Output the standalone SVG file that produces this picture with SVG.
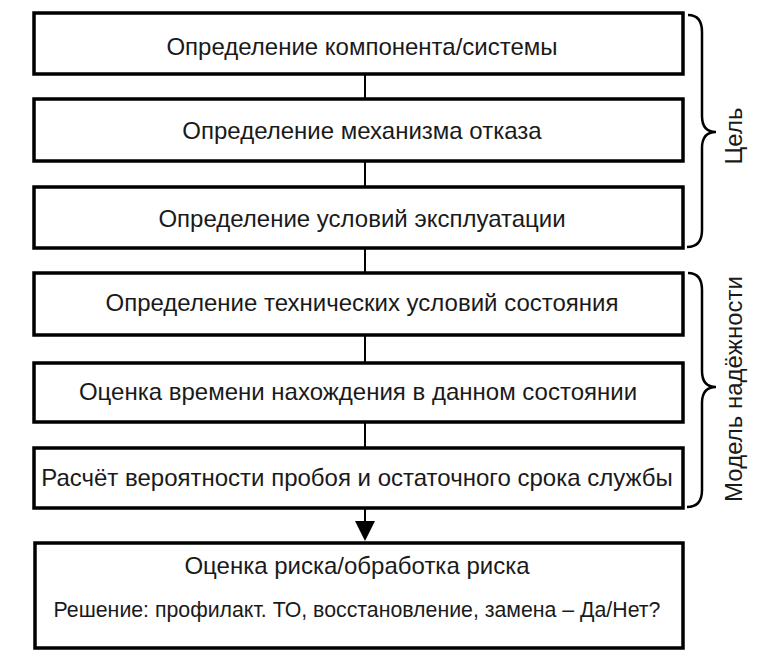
<svg xmlns="http://www.w3.org/2000/svg" width="759" height="658" viewBox="0 0 759 658">
<style>
.box{fill:#fff;stroke:#000;stroke-width:3.5}
.t{font-family:"Liberation Sans",Arial,sans-serif;font-size:24px;fill:#1a1a1a;text-anchor:middle}
.s{font-family:"Liberation Sans",Arial,sans-serif;font-size:21.3px;fill:#1a1a1a;text-anchor:middle}
.lab{font-family:"Liberation Sans",Arial,sans-serif;font-size:24px;fill:#1a1a1a;text-anchor:middle}
.con{stroke:#000;stroke-width:2;fill:none}
.br{stroke:#000;stroke-width:2.5;fill:none}
</style>
<rect width="759" height="658" fill="#fff"/>
<g id="connectors">
<line class="con" x1="365" y1="74" x2="365" y2="99"/>
<line class="con" x1="365" y1="161" x2="365" y2="187"/>
<line class="con" x1="365" y1="248" x2="365" y2="273"/>
<line class="con" x1="365" y1="335" x2="365" y2="363"/>
<line class="con" x1="365" y1="422" x2="365" y2="448"/>
<line class="con" x1="365" y1="508" x2="365" y2="524"/>
<path d="M355,521 L375,521 L365,541 Z" fill="#000"/>
</g>
<g id="n1"><rect class="box" x="34" y="13" width="649" height="61"/><text class="t" x="362" y="55">Определение компонента/системы</text></g>
<g id="n2"><rect class="box" x="34" y="99" width="649" height="62"/><text class="t" x="362" y="139">Определение механизма отказа</text></g>
<g id="n3"><rect class="box" x="34" y="187" width="649" height="61"/><text class="t" x="362" y="227">Определение условий эксплуатации</text></g>
<g id="n4"><rect class="box" x="34" y="273" width="649" height="62"/><text class="t" x="362" y="311">Определение технических условий состояния</text></g>
<g id="n5"><rect class="box" x="34" y="363" width="649" height="59"/><text class="t" x="358" y="400">Оценка времени нахождения в данном состоянии</text></g>
<g id="n6"><rect class="box" x="34" y="448" width="649" height="60"/><text class="t" x="357" y="486">Расчёт вероятности пробоя и остаточного срока службы</text></g>
<g id="n7"><rect class="box" x="35" y="543" width="648" height="105"/><text class="t" x="357" y="574">Оценка риска/обработка риска</text><text class="s" x="357" y="617">Решение: профилакт. ТО, восстановление, замена – Да/Нет?</text></g>
<g id="brace1">
<path class="br" d="M688,15 Q702,15 702,32 L702,116 Q702,132 716,132 Q702,132 702,148 L702,230 Q702,247 687,247"/>
<text class="lab" transform="translate(742,136) rotate(-90)">Цель</text>
</g>
<g id="brace2">
<path class="br" d="M688,273 Q702,273 702,290 L702,371 Q702,387 716,387 Q702,387 702,403 L702,490 Q702,507 687,507"/>
<text class="lab" transform="translate(742,389) rotate(-90)">Модель надёжности</text>
</g>
</svg>
